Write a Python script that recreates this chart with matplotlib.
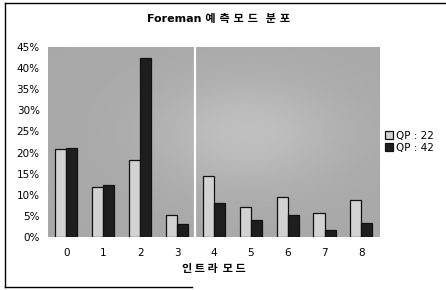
import numpy as np
import matplotlib
matplotlib.use("Agg")
import matplotlib.pyplot as plt
from matplotlib.lines import Line2D

plt.rcParams['font.family'] = ['DejaVu Sans', 'Noto Sans CJK KR']

# data (percent)
modes = ['0', '1', '2', '3', '4', '5', '6', '7', '8']
qp22 = [20.8, 11.8, 18.2, 5.1, 14.4, 7.0, 9.4, 5.7, 8.7]
qp42 = [21.0, 12.3, 42.4, 3.0, 8.0, 4.0, 5.3, 1.6, 3.2]
yticks = [0, 5, 10, 15, 20, 25, 30, 35, 40, 45]

fig = plt.figure(figsize=(4.46, 2.90), dpi=100)
ax = fig.add_axes([0.1076, 0.183, 0.744, 0.655])

# soft gray backdrop standing in for the halftone gradient
grad = np.linspace(0, 1, 200)
gx, gy = np.meshgrid(grad, grad)
bg = 0.66 + 0.09 * np.exp(-((gx - 0.6) ** 2 + (gy - 0.45) ** 2) / 0.08)
ax.imshow(bg, cmap='gray', vmin=0, vmax=1, extent=(-0.5, 8.5, 0, 45),
          aspect='auto', zorder=0, interpolation='bilinear')

x = np.arange(len(modes))
w = 0.3
ax.bar(x - w / 2, qp22, w, color='#d2d2d2', edgecolor='#111111',
       linewidth=0.9, label='QP : 22', zorder=2)
ax.bar(x + w / 2, qp42, w, color='#1e1e1e', edgecolor='#111111',
       linewidth=0.9, label='QP : 42', zorder=2)

# white seam in the scan between modes 3 and 4
ax.axvline(3.5, color='white', linewidth=1.6, zorder=3)

ax.set_xlim(-0.5, 8.5)
ax.set_ylim(0, 45)
ax.set_yticks(yticks)
ax.set_yticklabels([f'{v}%' for v in yticks], fontsize=7.5)
ax.set_xticks(x)
ax.set_xticklabels(modes, fontsize=7.5)
ax.tick_params(length=0, pad=8)
ax.tick_params(axis='y', pad=6)
for s in ax.spines.values():
    s.set_visible(False)

ax.set_xlabel('인 트 라  모 드', fontsize=8, fontweight='bold', labelpad=3,
              family=['Noto Sans CJK KR'])
fig.text(0.49, 0.935, 'Foreman 예 측 모 드  분 포', ha='center', va='center',
         fontsize=8, fontweight='bold')

ax.legend(loc='center left', bbox_to_anchor=(1.0, 0.5), frameon=False,
          handlelength=0.8, handleheight=0.8,
          handletextpad=0.3, labelspacing=0.2, borderaxespad=0.1,
          prop={'size': 7.5})

# page frame from the scan
fig.add_artist(Line2D([0.011, 0.011], [0.01, 0.99], color='black', lw=1.0))
fig.add_artist(Line2D([0.011, 1.0], [0.99, 0.99], color='black', lw=1.0))
fig.add_artist(Line2D([0.011, 0.43], [0.01, 0.01], color='black', lw=1.0))

fig.savefig('out.png', dpi=100)
